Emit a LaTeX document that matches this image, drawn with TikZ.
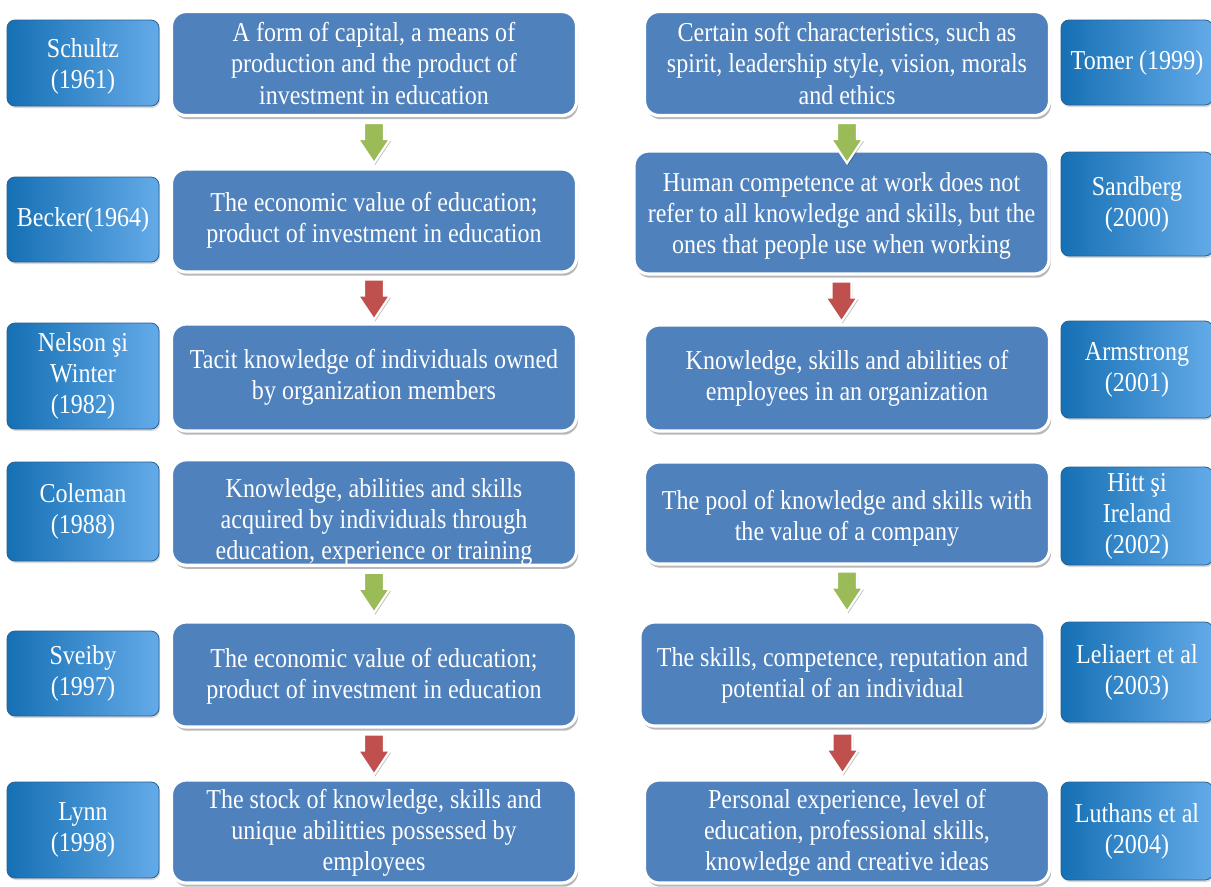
\documentclass[tikz,border=0pt]{standalone}
\usepackage{fontspec}
\setmainfont{Liberation Serif}[FakeStretch=0.88]
\usetikzlibrary{calc,shadows}
\definecolor{mainblue}{HTML}{4F81BD}
\definecolor{authdark}{HTML}{1570B4}
\definecolor{authlight}{HTML}{64AAE8}
\definecolor{authedge}{HTML}{2A5F92}
\definecolor{arrgreen}{HTML}{9BBB59}
\definecolor{arrred}{HTML}{C0504D}
\newcommand\txtfont{\fontsize{20.5pt}{23.3pt}\selectfont}
% block arrow from the bottom of #2 towards the top of #3 (fixed length)
\newcommand\flowarrow[3]{%
  \path[flowarr, fill=#1] let \p1=(#2.south), \p2=(#3.north) in
   (\x1-7.5pt,\y1-4.5pt) -- (\x1+7.5pt,\y1-4.5pt) -- (\x1+7.5pt,\y1-16.5pt)
   -- (\x1+12pt,\y1-16.5pt) -- (\x1,\y1-34.5pt) -- (\x1-12pt,\y1-16.5pt)
   -- (\x1-7.5pt,\y1-16.5pt) -- cycle;}
\newcommand\downtxt[1]{\rule{0pt}{#1}}
\tikzset{
  mainbox/.style={rectangle, rounded corners=11pt, fill=mainblue, draw=white,
    line width=2.4pt, text=white, align=center, inner sep=0pt,
    font=\txtfont, minimum width=303.75pt,
    drop shadow={shadow xshift=1.2pt, shadow yshift=-2.8pt, opacity=0.28, fill=black}},
  authbox/.style={rectangle, rounded corners=6pt, left color=authdark,
    right color=authlight, draw=authedge, line width=0.6pt, text=white,
    align=center, inner sep=0pt, font=\txtfont, minimum width=114pt,
    drop shadow={shadow xshift=0.8pt, shadow yshift=-1.5pt, opacity=0.15, fill=black}},
  flowarr/.style={draw=white, line width=1.6pt, line join=miter,
    drop shadow={shadow xshift=0.8pt, shadow yshift=-1.5pt, opacity=0.25, fill=black}}
}
\begin{document}
\begin{tikzpicture}[x=0.75pt,y=-0.75pt]
\useasboundingbox (0,0) rectangle (1211,886);
\fill[white] (0,0) rectangle (1211,886);
% left column main boxes
\node[mainbox, minimum height=78pt] (L1) at (374,63.5)
  {A form of capital, a means of\\production and the product of\\investment in education};
\node[mainbox, minimum height=77.25pt] (L2) at (374,220.5)
  {The economic value of education;\\product of investment in education};
\node[mainbox, minimum height=80.25pt] (L3) at (374,377.5)
  {Tacit knowledge of individuals owned\\by organization members};
\node[mainbox, minimum height=75pt] (L4) at (374,512.5)
  {\downtxt{28pt}Knowledge, abilities and skills\\acquired by individuals through\\education, experience or training};
\node[mainbox, minimum height=78.75pt] (L5) at (374,674.5)
  {\downtxt{17pt}The economic value of education;\\product of investment in education};
\node[mainbox, minimum height=77.25pt] (L6) at (374,831.5)
  {\downtxt{17pt}The stock of knowledge, skills and\\unique abilitties possessed by\\employees};
% right column main boxes
\node[mainbox, minimum height=78pt] (R1) at (847,63.5)
  {Certain soft characteristics, such as\\spirit, leadership style, vision, morals\\and ethics};
\node[mainbox, minimum height=92.25pt, minimum width=311.25pt] (R2) at (841.5,212.5)
  {\downtxt{20pt}Human competence at work does not\\refer to all knowledge and skills, but the\\ones that people use when working};
\node[mainbox, minimum height=79.5pt] (R3) at (847,378)
  {Knowledge, skills and abilities of\\employees in an organization};
\node[mainbox, minimum height=76.5pt] (R4) at (847,513)
  {\downtxt{22pt}The pool of knowledge and skills with\\the value of a company};
\node[mainbox, minimum height=78pt] (R5) at (842.5,674)
  {\downtxt{17pt}The skills, competence, reputation and\\potential of an individual};
\node[mainbox, minimum height=77.25pt] (R6) at (847,831.5)
  {\downtxt{17pt}Personal experience, level of\\education, professional skills,\\knowledge and creative ideas};
% author boxes left
\node[authbox, minimum height=64.5pt] (A1) at (83,63) {\downtxt{19pt}Schultz\\(1961)};
\node[authbox, minimum height=63.75pt] (A2) at (83,219.5) {Becker(1964)};
\node[authbox, minimum height=79.5pt] (A3) at (83,376) {Nelson şi\\Winter\\(1982)};
\node[authbox, minimum height=74.25pt] (A4) at (83,511.5) {Coleman\\(1988)};
\node[authbox, minimum height=63.75pt] (A5) at (83,673.5) {Sveiby\\(1997)};
\node[authbox, minimum height=72pt] (A6) at (83,830) {Lynn\\(1998)};
% author boxes right
\node[authbox, minimum height=63.75pt] (B1) at (1137,62.5) {Tomer (1999)};
\node[authbox, minimum height=78pt] (B2) at (1137,204) {Sandberg\\(2000)};
\node[authbox, minimum height=72.75pt] (B3) at (1137,369.5) {Armstrong\\(2001)};
\node[authbox, minimum height=73.5pt] (B4) at (1137,516) {Hitt şi\\Ireland\\(2002)};
\node[authbox, minimum height=75pt] (B5) at (1137,672) {Leliaert et al\\(2003)};
\node[authbox, minimum height=73.5pt] (B6) at (1137,831) {Luthans et al\\(2004)};
% arrows
\flowarrow{arrgreen}{L1}{L2}
\flowarrow{arrred}{L2}{L3}
\flowarrow{arrgreen}{L4}{L5}
\flowarrow{arrred}{L5}{L6}
\flowarrow{arrgreen}{R1}{R2}
\flowarrow{arrred}{R2}{R3}
\flowarrow{arrgreen}{R4}{R5}
\flowarrow{arrred}{R5}{R6}
\end{tikzpicture}
\end{document}
